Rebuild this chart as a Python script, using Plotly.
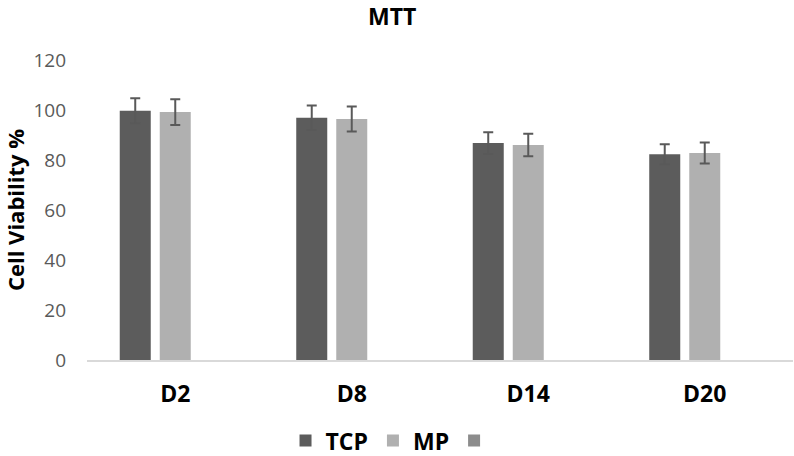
import plotly.graph_objects as go

categories = ["D2", "D8", "D14", "D20"]
tcp_values = [99.7, 96.9, 86.8, 82.3]
tcp_errors = [5.0, 4.9, 4.35, 4.0]
mp_values = [99.2, 96.4, 86.0, 82.8]
mp_errors = [5.15, 4.95, 4.5, 4.2]
third_values = [None, None, None, None]
y_ticks = [0, 20, 40, 60, 80, 100, 120]

FONT = "Open Sans"

fig = go.Figure()
fig.add_trace(go.Bar(
    x=categories, y=tcp_values, name="<b>TCP</b>",
    marker=dict(color="#5c5c5c", line=dict(width=0)),
    error_y=dict(type="data", array=tcp_errors, visible=True,
                 color="#595959", thickness=2, width=5),
))
fig.add_trace(go.Bar(
    x=categories, y=mp_values, name="<b>MP</b>",
    marker=dict(color="#b0b0b0", line=dict(width=0)),
    error_y=dict(type="data", array=mp_errors, visible=True,
                 color="#595959", thickness=2, width=5),
))
fig.add_trace(go.Bar(
    x=categories, y=third_values, name=" ",
    marker=dict(color="#8c8c8c", line=dict(width=0)),
))

fig.update_layout(
    width=794, height=456,
    paper_bgcolor="white", plot_bgcolor="white",
    margin=dict(l=87, r=1, t=60, b=96, autoexpand=False),
    barmode="group", bargap=0.32, bargroupgap=0.225,
    title=dict(text="<b>MTT</b>", x=0.494, xanchor="center",
               yref="paper", y=1, yanchor="bottom", pad=dict(b=35),
               font=dict(family=FONT, size=23, color="black")),
    xaxis=dict(showline=True, linecolor="#d9d9d9", linewidth=1.5,
               ticks="", showgrid=False, zeroline=False, automargin=False,
               tickfont=dict(family=FONT, size=23, color="black"),
               ticklabelstandoff=13,
               tickvals=categories,
               ticktext=["<b>" + c + "</b>" for c in categories]),
    yaxis=dict(range=[0, 120], tickvals=y_ticks, showgrid=False, zeroline=False,
               showline=False, ticks="", automargin=False,
               tickfont=dict(family=FONT, size=19, color="#595959"),
               ticklabelstandoff=20,
               title=dict(text="<b>Cell Viability %</b>", standoff=21,
                          font=dict(family=FONT, size=22, color="black"))),
    legend=dict(orientation="h", x=0.437, xanchor="center", y=-0.197, yanchor="top",
                font=dict(family=FONT, size=23, color="black"),
                itemwidth=30, traceorder="normal"),
)

# remove the browser's default 8px page margin so the figure fills the window exactly
fig.write_html("out.html", config={"displayModeBar": False},
               post_script="document.body.style.margin='0';")
